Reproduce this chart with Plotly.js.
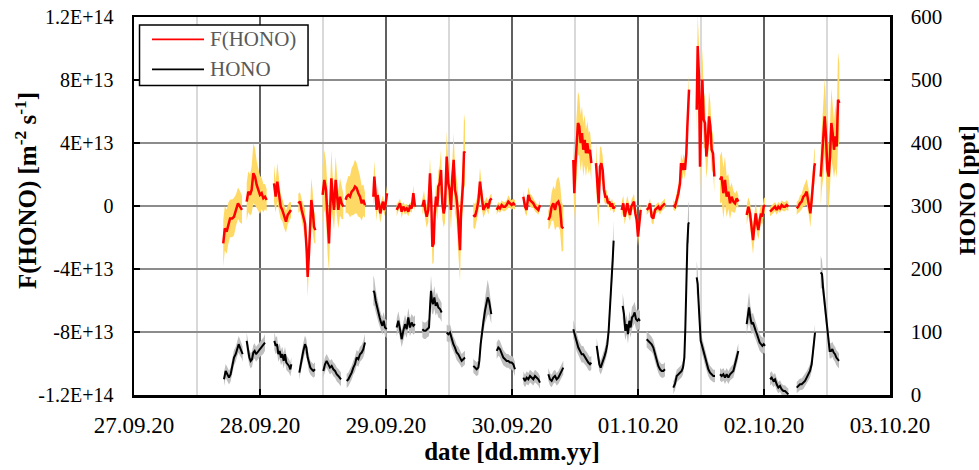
<!DOCTYPE html>
<html><head><meta charset="utf-8">
<script src="https://cdn.plot.ly/plotly-3.0.1.min.js"></script>
<style>html,body{margin:0;padding:0;background:#fff}#chart{width:979px;height:470px}</style>
</head><body><div id="chart"></div>
<script>
// ---------- DATA ----------
// time in hours after 27.09.20 00:00; flux in units of 1E+13 m-2 s-1; HONO in ppt
const FLUX_UNIT = 1e13;

const fluxHours = [
 [17.0,17.3,17.65,17.97,18.3,18.7,19.05,19.43,19.81,20.19,20.57],
 [21.46,21.78,22.1,22.41,22.73,23.05,23.37,23.68,24.0,24.32,24.63,24.95,25.27],
 [26.67,26.98,27.3,27.62,27.94,28.25,28.57,28.95,29.27,29.59,29.9],
 [31.3,31.62,31.94,32.25,32.57,32.89,33.08,33.33,33.52,33.78,34.03,34.29,34.54],
 [35.93,36.25,36.57,36.89,37.14,37.33,37.59,37.84,38.1,38.41,38.67,38.92,39.24,39.55,39.87],
 [40.3,40.51,40.83,41.14,41.46,41.78,42.09,42.41,42.73,43.05,43.37,43.68,44.0],
 [45.59,45.78,45.97,46.22,46.41,46.67,46.92,47.17,47.43,47.68,47.94,48.19],
 [50.03,50.35,50.67,50.98,51.3,51.62,51.94,52.25,52.57,52.89,53.21,53.52],
 [54.92,55.24,55.49,55.75,56.06,56.38,56.63,56.83,57.08,57.27,57.52,57.78,57.97,58.22,58.48,58.73,58.98,59.24,59.56,59.87,60.13,60.38,60.64,60.89,61.14,61.4,61.65,61.9,62.1,62.29,62.48,62.67,62.86,63.05],
 [64.63,64.95,65.27,65.59,65.9,66.22,66.54,66.86,67.17,67.49,67.81,68.13],
 [69.08,69.4,69.71,70.03,70.35,70.67,70.98,71.3,71.62,71.94,72.25,72.57],
 [74.16,74.48,74.79,75.11,75.43,75.75,76.06,76.38,76.7,77.02,77.33],
 [78.92,79.23,79.55,79.87,80.19,80.5,80.82,81.14,81.46,81.77],
 [83.68,83.87,84.06,84.31,84.57,84.82,85.08,85.33,85.58,85.84,86.09,86.35,86.6,86.85,87.11],
 [88.0,88.25,88.51,88.76,89.01,89.27,89.52,89.78,90.03,90.28,90.54,90.79,91.05,91.3,91.62],
 [92.89,93.2,93.46,93.71,93.97,94.22,94.48,94.73,94.98,95.24,95.49,95.75,96.0,96.25,96.51],
 [97.65,97.97,98.29,98.6,98.92,99.24,99.56,99.87,100.19,100.5,100.82,101.14],
 [102.73,103.05,103.37,103.69,104.0,104.19,104.45,104.7,104.95,105.21,105.4,105.59,105.72],
 [107.18,107.37,107.62,107.81,108.0,108.26,108.51,108.76,109.02,109.27,109.53,109.78,110.03,110.29,110.54],
 [111.62,111.94,112.26,112.57,112.89,113.21,113.53,113.84,114.16,114.48,114.8,115.11],
 [116.7,117.02,117.34,117.65,117.91,118.16,118.42,118.67,118.93,119.18,119.43,119.69,119.94,120.19],
 [121.15,121.46,121.78,122.1,122.42,122.73,123.05,123.37,123.69,124.0,124.32,124.64],
 [126.23,126.54,126.86,127.18,127.5,127.81,128.13,128.32,128.57,128.83,129.08,129.34,129.59,129.72],
 [130.8,131.05,131.3,131.56,131.81,132.07,132.32,132.57,132.83,133.08,133.34,133.59,133.85,134.1,134.35]
];
const fluxValues = [
 [-2.38,-1.42,-1.63,-1.10,-0.79,-0.79,-0.68,-0.25,0.17,-0.04,-0.25],
 [0.28,0.91,0.70,1.02,2.08,1.87,1.34,1.02,0.70,0.81,0.49,0.59,0.38],
 [1.44,0.59,1.55,0.59,-0.04,-0.25,-0.68,-1.00,-0.57,-0.36,-0.25],
 [0.17,0.28,-0.25,-0.68,-1.10,-2.80,-4.50,-3.00,-1.10,0.38,-0.25,-1.32,-1.53],
 [0.70,1.66,1.02,-1.32,-2.38,-0.47,1.76,0.59,-0.25,1.66,0.59,-0.25,0.59,0.17,-0.04],
 [0.40,0.59,0.70,0.59,0.91,1.02,1.23,1.13,0.81,0.59,0.17,0.38,0.06],
 [0.59,1.87,1.02,-0.25,0.70,-0.04,-0.47,-0.04,0.28,-0.25,0.17,0.81],
 [-0.25,-0.04,0.17,-0.36,-0.04,-0.25,-0.15,-0.36,-0.04,-0.15,0.81,-0.04],
 [-0.04,0.38,-0.25,-0.68,-0.25,2.08,0.17,-2.59,-2.38,-0.47,0.59,-0.04,1.23,1.44,2.29,0.17,-0.47,-0.04,3.14,1.44,1.02,-0.25,1.87,2.93,1.02,0.59,-0.25,-1.95,-2.80,-0.47,0.59,1.44,3.46,3.35],
 [-0.57,-0.68,-0.25,0.28,1.55,0.59,-0.25,-0.04,0.17,-0.15,0.38,0.49],
 [-0.25,-0.04,-0.15,0.06,-0.04,-0.04,0.06,0.28,0.17,0.06,0.17,0.06],
 [0.59,-0.04,-0.25,0.70,0.38,0.28,0.17,-0.04,-0.15,-0.25,0.06],
 [-0.89,-0.68,-0.04,0.17,-0.25,0.17,0.28,-0.04,-1.32,-1.42],
 [2.93,0.81,2.50,3.57,5.27,5.05,3.99,4.63,3.57,4.20,3.35,3.99,3.35,3.57,2.72],
 [2.72,1.02,0.17,2.50,2.72,2.29,1.02,0.59,0.59,0.17,0.28,-0.04,0.17,-0.15,-0.04],
 [-0.25,0.17,-0.68,-0.25,0.17,-0.25,-0.57,-0.04,0.17,0.28,-0.47,-0.89,-1.95,-1.10,-0.25],
 [-0.25,-0.15,0.17,-0.68,-0.79,-0.25,-0.15,-0.04,-0.25,-0.04,0.06,0.17],
 [0.06,-0.04,0.38,0.81,1.44,2.72,2.29,2.72,2.29,3.35,5.05,7.28,7.39],
 [6.11,10.15,8.24,2.50,5.05,8.03,5.48,5.27,3.14,3.99,5.69,5.05,3.57,3.35,1.87],
 [1.66,1.87,0.81,1.66,0.59,0.91,0.17,0.59,0.28,0.17,0.49,0.28],
 [-0.57,-0.04,-0.47,-1.53,-2.17,-1.32,-0.47,-1.10,-1.53,-0.89,-0.47,-0.68,-0.04,0.06],
 [-0.36,-0.25,-0.15,-0.04,-0.25,-0.04,-0.15,0.06,-0.04,-0.04,0.06,-0.04],
 [-0.15,-0.04,0.17,0.28,0.59,0.70,0.91,0.59,0.17,-0.47,0.38,1.66,2.50,2.72],
 [1.87,3.14,3.99,5.69,4.42,2.29,1.87,3.14,5.27,4.63,3.57,4.42,3.78,6.75,6.54]
];
const fluxErrors = [
 [1.5,1.4,1.4,1.3,1.2,1.2,1.2,1.0,1.0,1.0,0.9],
 [1.2,1.3,1.3,1.5,1.9,1.8,1.5,1.3,1.2,1.0,0.9,0.8,0.7],
 [1.2,1.0,1.2,0.9,0.8,0.7,0.7,0.7,0.6,0.6,0.5],
 [0.6,0.6,0.7,0.8,0.9,1.1,1.3,1.2,1.2,1.4,1.2,1.0,0.9],
 [1.8,1.9,1.8,1.8,1.8,1.6,1.8,1.4,1.3,1.5,1.3,1.2,1.2,1.0,0.8],
 [0.9,1.0,1.2,1.3,1.5,1.6,1.7,1.6,1.5,1.3,1.1,1.0,0.8],
 [0.8,1.0,0.8,0.7,0.6,0.5,0.6,0.5,0.4,0.4,0.4,0.5],
 [0.4,0.3,0.3,0.4,0.3,0.3,0.3,0.3,0.3,0.3,0.5,0.3],
 [0.5,0.6,0.6,0.7,0.8,1.0,1.0,1.1,1.2,1.0,0.9,0.9,1.0,1.1,1.3,1.0,0.9,1.0,1.6,1.4,1.3,1.3,1.5,1.7,1.5,1.4,1.5,1.8,2.0,1.6,1.4,1.6,2.4,2.0],
 [0.8,0.8,0.7,0.7,0.9,0.7,0.5,0.4,0.4,0.4,0.3,0.3],
 [0.3,0.3,0.3,0.3,0.3,0.3,0.3,0.4,0.3,0.3,0.3,0.3],
 [0.4,0.4,0.4,0.5,0.4,0.4,0.3,0.3,0.3,0.3,0.3],
 [0.6,0.7,0.9,1.1,1.3,1.5,1.6,1.5,1.6,1.4],
 [1.5,1.6,1.8,2.0,2.0,1.9,1.8,1.7,1.7,1.6,1.5,1.4,1.3,1.2,1.1],
 [1.3,1.3,1.5,1.3,1.0,0.9,0.7,0.5,0.4,0.3,0.3,0.3,0.3,0.3,0.3],
 [0.5,0.5,0.5,0.5,0.5,0.5,0.4,0.4,0.4,0.5,0.5,0.6,0.6,0.5,0.4],
 [0.3,0.3,0.3,0.4,0.4,0.3,0.3,0.3,0.3,0.3,0.3,0.3],
 [0.3,0.3,0.5,0.5,0.6,0.6,0.6,0.6,0.6,0.7,0.9,1.0,1.0],
 [1.5,2.0,2.0,1.5,1.8,2.0,1.8,1.6,1.4,1.4,1.6,1.5,1.3,1.2,1.0],
 [1.5,1.6,1.6,1.5,1.3,1.1,1.0,0.9,0.7,0.6,0.5,0.4],
 [0.6,0.6,0.7,0.8,0.9,0.8,0.7,0.7,0.6,0.6,0.6,0.5,0.5,0.5],
 [0.3,0.3,0.3,0.3,0.3,0.3,0.3,0.3,0.3,0.3,0.3,0.3],
 [0.4,0.4,0.5,0.5,0.6,0.7,0.8,0.8,0.8,0.9,0.9,1.0,1.0,1.0],
 [1.8,2.0,2.2,2.4,2.2,2.0,2.0,2.0,2.2,2.0,1.8,2.0,2.0,3.0,2.5]
];

const honoHours = [
 [17.14,17.46,17.78,18.1,18.41,18.73,19.05,19.37,19.68,19.94,20.19,20.51,20.7],
 [21.46,21.71,21.97,22.22,22.48,22.73,22.98,23.24,23.49,23.75,24.0,24.32,24.63,24.95],
 [26.73,26.98,27.24,27.49,27.75,28.0,28.25,28.51,28.76,29.02,29.27,29.52,29.78,29.97],
 [31.49,31.75,32.0,32.25,32.57,32.83,33.08,33.33,33.59,33.84,34.16,34.48],
 [36.06,36.38,36.7,37.02,37.33,37.65,37.97,38.29,38.6,38.92,39.24,39.43],
 [40.51,40.83,41.14,41.46,41.78,42.09,42.41,42.73,43.05,43.37,43.68,44.0],
 [45.59,45.78,46.03,46.29,46.54,46.79,47.05,47.3,47.56,47.81,48.13],
 [50.03,50.35,50.67,50.98,51.3,51.62,51.94,52.25,52.57,52.89,53.21,53.52],
 [54.92,55.24,55.56,55.87,56.19,56.38,56.57,56.76,56.95,57.21,57.46,57.71,57.97,58.29,58.6],
 [59.56,59.87,60.19,60.51,60.83,61.14,61.46,61.78,62.1,62.41,62.73,63.05],
 [64.63,64.95,65.27,65.59,65.78,66.03,66.29,66.54,66.86,67.11,67.37,67.62,67.87,68.06],
 [69.08,69.4,69.71,70.03,70.35,70.67,70.98,71.3,71.62,71.94,72.25,72.57],
 [74.16,74.48,74.79,75.11,75.43,75.75,76.06,76.38,76.7,77.02,77.33],
 [78.92,79.23,79.55,79.87,80.19,80.5,80.82,81.14,81.46,81.77],
 [83.68,84.0,84.31,84.63,84.95,85.27,85.58,85.9,86.22,86.54,86.85,87.11],
 [88.13,88.38,88.63,88.89,89.14,89.4,89.65,89.9,90.16,90.41,90.66,90.92,91.17,91.36],
 [93.08,93.33,93.59,93.84,94.09,94.35,94.6,94.86,95.11,95.36,95.62,95.87,96.13,96.38],
 [97.65,97.97,98.29,98.6,98.92,99.24,99.56,99.87,100.19,100.5,100.82,101.14],
 [102.73,103.05,103.37,103.69,104.0,104.32,104.57,104.83,105.02,105.21,105.4,105.59,105.72],
 [107.18,107.37,107.56,107.75,107.94,108.13,108.45,108.76,109.08,109.4,109.72,110.03,110.35,110.67],
 [111.62,111.94,112.26,112.57,112.89,113.21,113.53,113.84,114.16,114.48,114.8,115.11],
 [116.7,116.89,117.15,117.4,117.65,117.91,118.16,118.42,118.67,118.93,119.18,119.43,119.69,119.94,120.19],
 [121.15,121.46,121.78,122.1,122.42,122.73,123.05,123.37,123.69,124.0,124.32,124.64],
 [126.23,126.54,126.86,127.18,127.5,127.81,128.13,128.45,128.76,129.08,129.4,129.72],
 [130.8,131.05,131.24,131.5,131.75,132.0,132.26,132.51,132.77,133.02,133.27,133.53,133.78,134.04,134.29]
];
const honoValues = [
 [24.9,38.2,32.9,27.6,32.9,48.8,59.4,64.7,75.3,80.6,75.3,70.0,64.7],
 [85.9,70.0,59.4,54.1,56.8,67.4,70.0,64.7,67.4,70.0,72.7,75.3,78.0,83.3],
 [85.9,78.0,80.6,64.7,70.0,59.4,64.7,54.1,64.7,51.5,48.8,46.2,40.8,48.8],
 [35.5,48.8,59.4,70.0,80.6,75.3,59.4,48.8,43.5,40.8,38.2,40.8],
 [38.2,48.8,54.1,48.8,43.5,46.2,40.8,38.2,32.9,30.2,27.6,24.9],
 [22.3,24.9,30.2,35.5,43.5,48.8,59.4,56.8,64.7,67.4,72.7,83.3],
 [165.5,162.8,149.6,139.0,131.0,123.0,115.1,109.8,117.8,107.2,104.5],
 [107.2,117.8,104.5,88.6,101.9,112.5,104.5,123.0,107.2,115.1,109.8,112.5],
 [104.5,101.9,101.9,104.5,107.2,139.0,165.5,149.6,144.3,154.9,141.6,147.0,139.0,136.3,131.0],
 [99.2,96.5,99.2,88.6,80.6,75.3,67.4,64.7,59.4,54.1,56.8,59.4],
 [46.2,43.5,40.8,43.5,54.1,80.6,101.9,115.1,133.7,144.3,154.9,149.6,139.0,128.4],
 [70.0,75.3,72.7,64.7,59.4,56.8,54.1,54.1,51.5,51.5,48.8,40.8],
 [27.6,22.3,27.6,24.9,30.2,27.6,24.9,30.2,27.6,24.9,19.6],
 [32.9,24.9,22.3,27.6,30.2,24.9,27.6,32.9,38.2,43.5],
 [104.5,93.9,83.3,75.3,70.0,64.7,64.7,59.4,56.8,51.5,48.8,51.5],
 [78.0,64.7,48.8,43.5,48.8,56.8,62.1,70.0,80.6,101.9,133.7,176.0,213.0,245.0],
 [141.6,128.4,101.9,112.5,96.5,117.8,107.2,123.0,125.7,131.0,120.4,117.8,120.4,117.8],
 [88.6,85.9,83.3,80.6,75.3,64.7,54.1,46.2,40.8,38.2,38.2,40.8],
 [11.7,18.0,30.2,32.9,35.5,38.2,43.5,59.4,107.2,186.7,239.8,271.6,274.0],
 [186.7,176.0,144.3,112.5,85.9,80.6,70.0,59.4,48.8,40.8,35.5,32.9,30.2,30.2],
 [32.9,30.2,32.9,27.6,32.9,27.6,32.9,35.5,38.2,48.8,59.4,70.0],
 [112.5,128.4,139.0,123.0,112.5,115.1,107.2,101.9,96.5,88.6,83.3,80.6,78.0,80.6,78.0],
 [24.9,27.6,22.3,24.9,17.0,11.7,14.3,9.0,6.4,6.4,3.7,1.0],
 [11.7,14.3,17.0,17.0,19.6,22.3,27.6,32.9,38.2,48.8,70.0,99.2],
 [194.7,192.0,170.8,149.6,128.4,107.2,85.9,70.0,70.0,72.7,67.4,64.7,59.4,56.8,54.1]
];
const honoErrors = [
 [11,11,11,11,11,12,12,12,13,13,13,12,12],
 [14,12,12,12,12,12,12,12,12,12,12,12,13,13],
 [14,13,13,12,12,12,12,12,12,12,11,11,11,11],
 [11,12,12,13,14,13,12,12,11,11,11,11],
 [11,11,11,11,11,11,11,11,11,11,11,11],
 [11,11,11,11,11,12,12,12,12,12,13,14],
 [24,21,18,16,15,14,14,14,14,14,14],
 [14,15,14,13,14,15,14,15,14,14,14,14],
 [13,13,13,13,14,20,24,20,17,18,16,16,16,15,15],
 [13,13,13,13,12,12,12,12,11,11,11,11],
 [11,11,11,11,12,13,14,16,20,24,28,22,18,15],
 [13,13,13,12,12,11,11,11,11,11,11,11],
 [10,10,10,10,10,10,10,10,10,10,10],
 [10,10,10,10,10,10,10,10,11,11],
 [15,14,14,13,13,13,13,12,12,12,11,11],
 [13,12,11,11,11,11,12,12,13,13,15,18,24,32],
 [20,18,15,16,15,16,16,17,17,17,16,16,16,15],
 [13,13,13,12,12,12,11,11,11,11,11,11],
 [10,10,10,10,10,10,11,12,13,17,24,30,34],
 [26,22,18,15,13,13,12,12,11,11,11,10,10,10],
 [10,10,10,10,10,10,10,10,11,11,12,12],
 [18,22,24,19,16,15,14,14,13,13,13,13,13,13,13],
 [10,10,10,10,10,9,9,9,9,9,9,9],
 [9,9,9,9,10,10,10,10,11,11,12,13],
 [26,22,19,16,15,14,13,12,12,12,12,12,12,12,12]
];

const fluxTickVals = [-1.2e14,-8e13,-4e13,0,4e13,8e13,1.2e14];
const fluxTickText = ['-1.2E+14','-8E+13','-4E+13','0','4E+13','8E+13','1.2E+14'];
const legendNames = ['F(HONO)', 'HONO'];
const seriesColors = ['#FF0000', '#000000'];

// ---------- BUILD ----------
const START = Date.UTC(2020, 8, 27);
function toDate(h){ if(h===null) return null; return new Date(START + h*3600000).toISOString().slice(0,19).replace('T',' '); }
function joinSegs(segs, f){ const out=[]; segs.forEach((s,i)=>{ if(i) out.push(null); s.forEach(v=>out.push(f(v))); }); return out; }

const FONT = 'Liberation Serif';
const traces = [];

function addBands(hSegs, vSegs, eSegs, scale, color, yaxis){
  hSegs.forEach((hs, i) => {
    const vs = vSegs[i], es = eSegs[i];
    const x = hs.map(toDate).concat(hs.slice().reverse().map(toDate));
    const up = vs.map((v,k)=> (v+es[k])*scale);
    const lo = vs.map((v,k)=> (v-es[k])*scale).reverse();
    traces.push({x:x, y:up.concat(lo), type:'scatter', mode:'lines', fill:'toself',
      fillcolor:color, line:{width:0, color:color}, yaxis:yaxis, showlegend:false, hoverinfo:'skip'});
  });
}
addBands(fluxHours, fluxValues, fluxErrors, FLUX_UNIT, '#FFD966', 'y');
addBands(honoHours, honoValues, honoErrors, 1, '#BFBFBF', 'y2');

traces.push({x:joinSegs(fluxHours,toDate), y:joinSegs(fluxValues,v=>v*FLUX_UNIT), type:'scatter', mode:'lines',
  name:legendNames[0], line:{color:seriesColors[0], width:2.5}, yaxis:'y', connectgaps:false, showlegend:false});
traces.push({x:joinSegs(honoHours,toDate), y:joinSegs(honoValues,v=>v), type:'scatter', mode:'lines',
  name:legendNames[1], line:{color:seriesColors[1], width:2}, yaxis:'y2', connectgaps:false, showlegend:false});

// legend drawn as a framed box (paper coordinates)
const legBox = {x0:0.0073, x1:0.2302, y0:0.8188, y1:0.9788};
const legRows = [0.941, 0.8616];
const shapes = [{type:'rect', xref:'paper', yref:'paper', x0:legBox.x0, x1:legBox.x1, y0:legBox.y0, y1:legBox.y1,
  fillcolor:'#fff', line:{color:'#000', width:1.5}, layer:'above'}];
const annotations = [];
legendNames.forEach((n,i)=>{
  shapes.push({type:'line', xref:'paper', yref:'paper', x0:0.0238, x1:0.0926, y0:legRows[i], y1:legRows[i],
    line:{color:seriesColors[i], width:1.8}, layer:'above'});
  annotations.push({xref:'paper', yref:'paper', x:0.0985, y:legRows[i], xanchor:'left', yanchor:'middle',
    text:n, showarrow:false, font:{family:FONT, size:21, color:'#595959'}});
});
// vertical axis titles
annotations.push({xref:'paper', yref:'paper', x:-0.1429, y:0.542, xanchor:'center', yanchor:'middle', textangle:-90,
  text:'<b>F(HONO) [m<sup>-2</sup> s<sup>-1</sup>]</b>', showarrow:false, font:{family:FONT, size:25, color:'#000'}});
annotations.push({xref:'paper', yref:'paper', x:1.1019, y:0.542, xanchor:'center', yanchor:'middle', textangle:-90,
  text:'<b>HONO [ppt]</b>', showarrow:false, font:{family:FONT, size:24, color:'#000'}});

const layout = {
  width:979, height:470,
  margin:{l:134, r:89, t:17, b:75},
  paper_bgcolor:'#fff', plot_bgcolor:'#fff',
  font:{family:FONT, color:'#000'},
  showlegend:false,
  shapes:shapes, annotations:annotations,
  xaxis:{type:'date', range:['2020-09-27 00:00','2020-10-03 00:00'], dtick:86400000, tick0:'2020-09-27',
    tickformat:'%d.%m.%y', ticks:'inside', ticklen:6, tickwidth:1.5, tickcolor:'#000',
    showline:true, linecolor:'#000', linewidth:2.5, mirror:true,
    showgrid:true, gridcolor:'#606060', gridwidth:1.5,
    minor:{dtick:43200000, showgrid:true, gridcolor:'#d9d9d9', gridwidth:2, ticks:''},
    tickfont:{family:FONT, size:23, color:'#000'}, ticklabelstandoff:8,
    title:{text:'<b>date [dd.mm.yy]</b>', font:{family:FONT, size:25, color:'#000'}, standoff:4}},
  yaxis:{range:[-1.2e14,1.2e14], tickvals:fluxTickVals, ticktext:fluxTickText, ticks:'inside', ticklen:6, tickwidth:1.5,
    tickcolor:'#000', showline:true, linecolor:'#000', linewidth:2.5, mirror:true, zeroline:false,
    showgrid:true, gridcolor:'#8c8c8c', gridwidth:1.5,
    tickfont:{family:FONT, size:20, color:'#000'}, ticklabelstandoff:14},
  yaxis2:{range:[0,600], dtick:100, overlaying:'y', side:'right', ticks:'inside', ticklen:6, tickwidth:1.5,
    tickcolor:'#000', showline:true, linecolor:'#000', linewidth:2.5, showgrid:false, zeroline:false,
    tickfont:{family:FONT, size:21, color:'#000'}, ticklabelstandoff:14}
};

Plotly.newPlot('chart', traces, layout, {displayModeBar:false, staticPlot:true});
</script>
</body></html>
